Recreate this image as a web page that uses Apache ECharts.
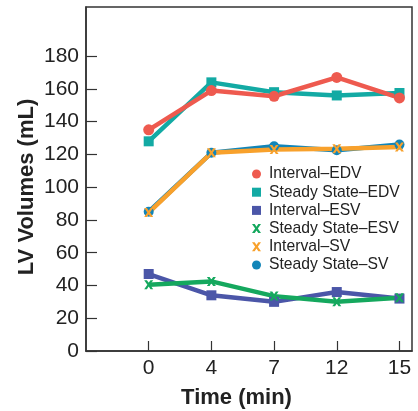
<!DOCTYPE html>
<html>
<head>
<meta charset="utf-8">
<script src="https://cdn.jsdelivr.net/npm/echarts@6/dist/echarts.min.js"></script>
<style>
html,body{margin:0;padding:0;background:#fff;}
#chart{width:418px;height:411px;}
</style>
</head>
<body>
<div id="chart"></div>
<script>
var times = ['0', '4', '7', '12', '15'];
var yTicks = [0, 20, 40, 60, 80, 100, 120, 140, 160, 180];
var intervalEDV = [135, 159, 155.5, 167, 154.5];
var steadyEDV = [128, 164, 158, 156, 157.5];
var intervalESV = [47, 34, 30, 36, 32];
var steadyESV = [40.5, 42.5, 33.5, 30, 32.5];
var intervalSV = [84.5, 121, 123, 123.5, 124.5];
var steadySV = [85, 121, 125, 122.5, 126];

var FONT = 'Liberation Sans, Arial, Helvetica, sans-serif';
var XPATH = 'path://M0,0 L3,0 L5,3 L7,0 L10,0 L6.5,5 L10,10 L7,10 L5,7 L3,10 L0,10 L3.5,5 Z';

function pts(arr) { return arr.map(function (v, i) { return [i, v]; }); }

function mk(name, arr, color, symbol, size) {
  return {
    name: name, type: 'line', data: pts(arr),
    symbol: symbol, symbolSize: size, showSymbol: true,
    lineStyle: { color: color, width: 4.5 },
    itemStyle: { color: color },
    emphasis: { disabled: true },
    animation: false
  };
}

var chart = echarts.init(document.getElementById('chart'));
chart.setOption({
  animation: false,
  grid: { left: 86, top: 7, right: 6, bottom: 60, show: true, borderColor: '#333', borderWidth: 1.5, backgroundColor: 'transparent' },
  xAxis: {
    type: 'value', min: -1, max: 4.2, interval: 1,
    splitLine: { show: false },
    axisLine: { show: true, onZero: false, lineStyle: { color: '#333', width: 1.5 } },
    axisTick: { show: true, inside: true, length: 10, customValues: [0, 1, 2, 3, 4], lineStyle: { color: '#333', width: 1.2 } },
    axisLabel: {
      customValues: [0, 1, 2, 3, 4],
      formatter: function (v) { return times[Math.round(v)]; },
      color: '#222', fontSize: 21, fontFamily: FONT, margin: 7
    }
  },
  yAxis: {
    type: 'value', min: 0, max: 210, interval: 20,
    splitLine: { show: false },
    axisLine: { show: true, onZero: false, lineStyle: { color: '#333', width: 1.5 } },
    axisTick: { show: true, inside: true, length: 11, customValues: yTicks, lineStyle: { color: '#333', width: 1.2 } },
    axisLabel: { customValues: yTicks, color: '#222', fontSize: 21, fontFamily: FONT, margin: 7 }
  },
  legend: {
    orient: 'vertical', left: 252, top: 165, padding: 0,
    itemWidth: 9, itemHeight: 9, itemGap: 0.2,
    textStyle: { fontSize: 15.7, fontFamily: FONT, color: '#222', lineHeight: 18, padding: [0, 0, 0, 3] },
    selectedMode: false,
    data: [
      { name: 'Interval\u2013EDV', icon: 'circle' },
      { name: 'Steady State\u2013EDV', icon: 'rect' },
      { name: 'Interval\u2013ESV', icon: 'rect' },
      { name: 'Steady State\u2013ESV', icon: XPATH },
      { name: 'Interval\u2013SV', icon: XPATH },
      { name: 'Steady State\u2013SV', icon: 'circle' }
    ]
  },
  series: [
    mk('Steady State\u2013EDV', steadyEDV, '#13aaa4', 'rect', 10),
    mk('Interval\u2013EDV', intervalEDV, '#ee5a4f', 'circle', 11),
    mk('Interval\u2013ESV', intervalESV, '#4b56a8', 'rect', 10),
    mk('Steady State\u2013ESV', steadyESV, '#15a85e', XPATH, 9),
    mk('Steady State\u2013SV', steadySV, '#1285b8', 'circle', 10),
    mk('Interval\u2013SV', intervalSV, '#f8a12c', XPATH, 9)
  ],
  graphic: [
    { type: 'text', x: 236.5, y: 398, style: { text: 'Time (min)', font: 'bold 22px ' + FONT, fill: '#222', align: 'center', verticalAlign: 'middle' } },
    { type: 'text', x: 27, y: 187, rotation: Math.PI / 2, style: { text: 'LV Volumes (mL)', font: 'bold 22px ' + FONT, fill: '#222', align: 'center', verticalAlign: 'middle' } }
  ]
});
</script>
</body>
</html>
